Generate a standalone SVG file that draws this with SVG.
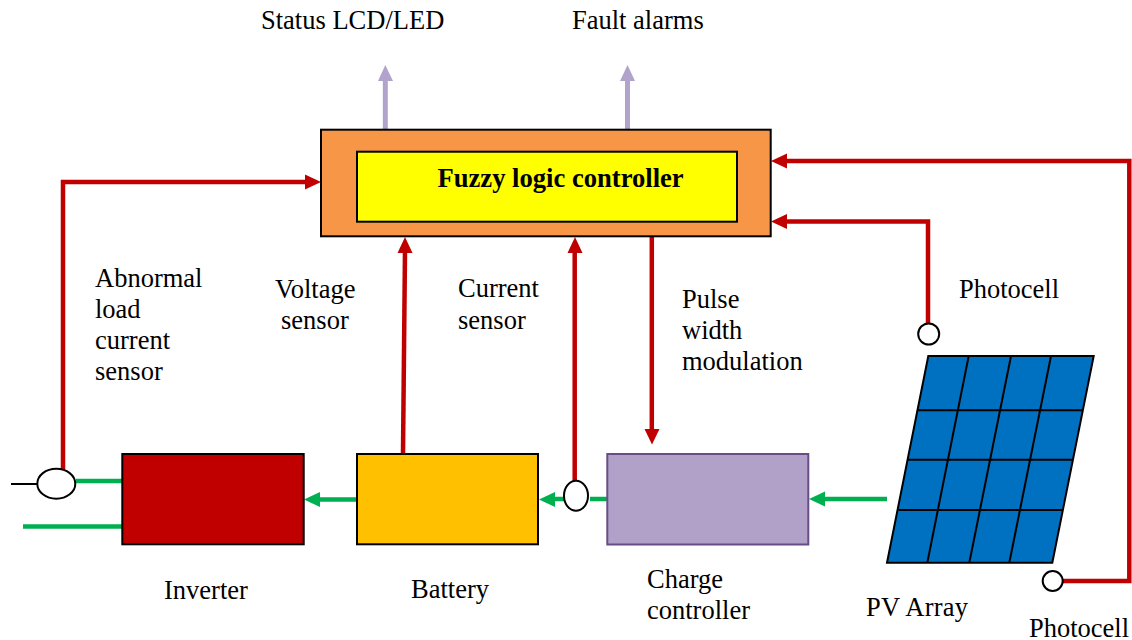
<svg xmlns="http://www.w3.org/2000/svg" width="1132" height="640" viewBox="0 0 1132 640">
<style>
text{font-family:"Liberation Serif","Times New Roman",serif;font-size:26.500px;fill:#000}
.b{font-weight:bold;font-size:26.600px}
.box{stroke:#000;stroke-width:2}
.red{fill:none;stroke:#c00000;stroke-width:4.500}
.green{fill:none;stroke:#00b050;stroke-width:4.500}
.lav{fill:none;stroke:#b1a3cb;stroke-width:5}
.gl{fill:none;stroke:#000;stroke-width:2}
.c{fill:#fff;stroke:#000;stroke-width:2}
.rh{fill:#c00000}.gh{fill:#00b050}.lh{fill:#b1a3cb}
</style>
<rect width="1132" height="640" fill="#fff"/>
<g id="connectors">
<path class="lav" d="M385.300 130V78"/><polygon class="lh" points="385.300,65 393,81 378,81"/>
<path class="lav" d="M627.500 130V78"/><polygon class="lh" points="627.500,65 635,81 620,81"/>
<path class="red" d="M63 470V182H308"/><polygon class="rh" points="321,182 305,174.500 305,189.500"/>
<path class="red" d="M403 454L405 250"/><polygon class="rh" points="405,237 412.500,253 397.500,253"/>
<path class="red" d="M574.700 482V250"/><polygon class="rh" points="575,237 582.500,253 567.500,253"/>
<path class="red" d="M651.800 237V432"/><polygon class="rh" points="652,444.500 644.500,429 659.500,429"/>
<path class="red" d="M928 323V221.500H785"/><polygon class="rh" points="771,221.500 787,214 787,229"/>
<path class="red" d="M1062 581H1129.300V161H785"/><polygon class="rh" points="771,161 787,153.500 787,168.500"/>
<path class="green" d="M76 481H122M23 526.500H122M320 499.500H357M887 499H822M607 499H590M564 499H553"/>
<polygon class="gh" points="304,499.500 320,492 320,507"/>
<polygon class="gh" points="539,499.500 555,492 555,507"/>
<polygon class="gh" points="809,499 825,491.500 825,506.500"/>
<path class="gl" d="M11 484H37"/>
</g>
<g id="controller">
<rect class="box" x="321" y="129.700" width="449.700" height="106.600" fill="#f79646"/>
<rect class="box" x="357" y="151.700" width="380" height="70" fill="#ff0"/>
<text class="b" x="437.500" y="187">Fuzzy logic controller</text>
</g>
<g id="inverter">
<rect class="box" x="122.300" y="454" width="181.400" height="90.300" fill="#c00000"/>
<ellipse class="c" cx="56.300" cy="483.700" rx="19" ry="15"/>
</g>
<g id="battery">
<rect class="box" x="357" y="454" width="181" height="90.300" fill="#ffc000"/>
</g>
<g id="charge-controller">
<rect x="607.300" y="454" width="201" height="90.500" fill="#b1a0c7" stroke="#664d86" stroke-width="2"/>
<ellipse class="c" cx="576" cy="495.700" rx="12" ry="15"/>
</g>
<g id="pv-array">
<polygon points="928.300,356 1093.700,356 1052.300,562.700 887,562.700" fill="#0070c0" stroke="#000" stroke-width="2"/>
<path class="gl" d="M917.700 410.300H1082.700M908 459.700H1072.700M898.300 510H1062.300M968.700 356L927.300 562.700M1011 356L969.300 562.700M1051 356L1009.300 562.700"/>
<circle class="c" cx="928.700" cy="334" r="10.500"/>
<circle class="c" cx="1052.700" cy="581" r="10"/>
</g>
<g id="labels">
<text x="261" y="28.700">Status LCD/LED</text>
<text x="572" y="28.700">Fault alarms</text>
<text x="95" y="286.700">Abnormal</text>
<text x="95" y="317.700">load</text>
<text x="95" y="348.700">current</text>
<text x="95" y="379.700">sensor</text>
<text x="275" y="297.700">Voltage</text>
<text x="281" y="328.700">sensor</text>
<text x="458" y="296.700">Current</text>
<text x="458" y="328.700">sensor</text>
<text x="682" y="307.700">Pulse</text>
<text x="682" y="338.700">width</text>
<text x="682" y="369.700">modulation</text>
<text x="959" y="297.700">Photocell</text>
<text x="164" y="598.700">Inverter</text>
<text x="411" y="597.700">Battery</text>
<text x="647" y="587.700">Charge</text>
<text x="647" y="618.700">controller</text>
<text x="866" y="615.700" textLength="102">PV Array</text>
<text x="1029" y="636.700">Photocell</text>
</g>
</svg>
